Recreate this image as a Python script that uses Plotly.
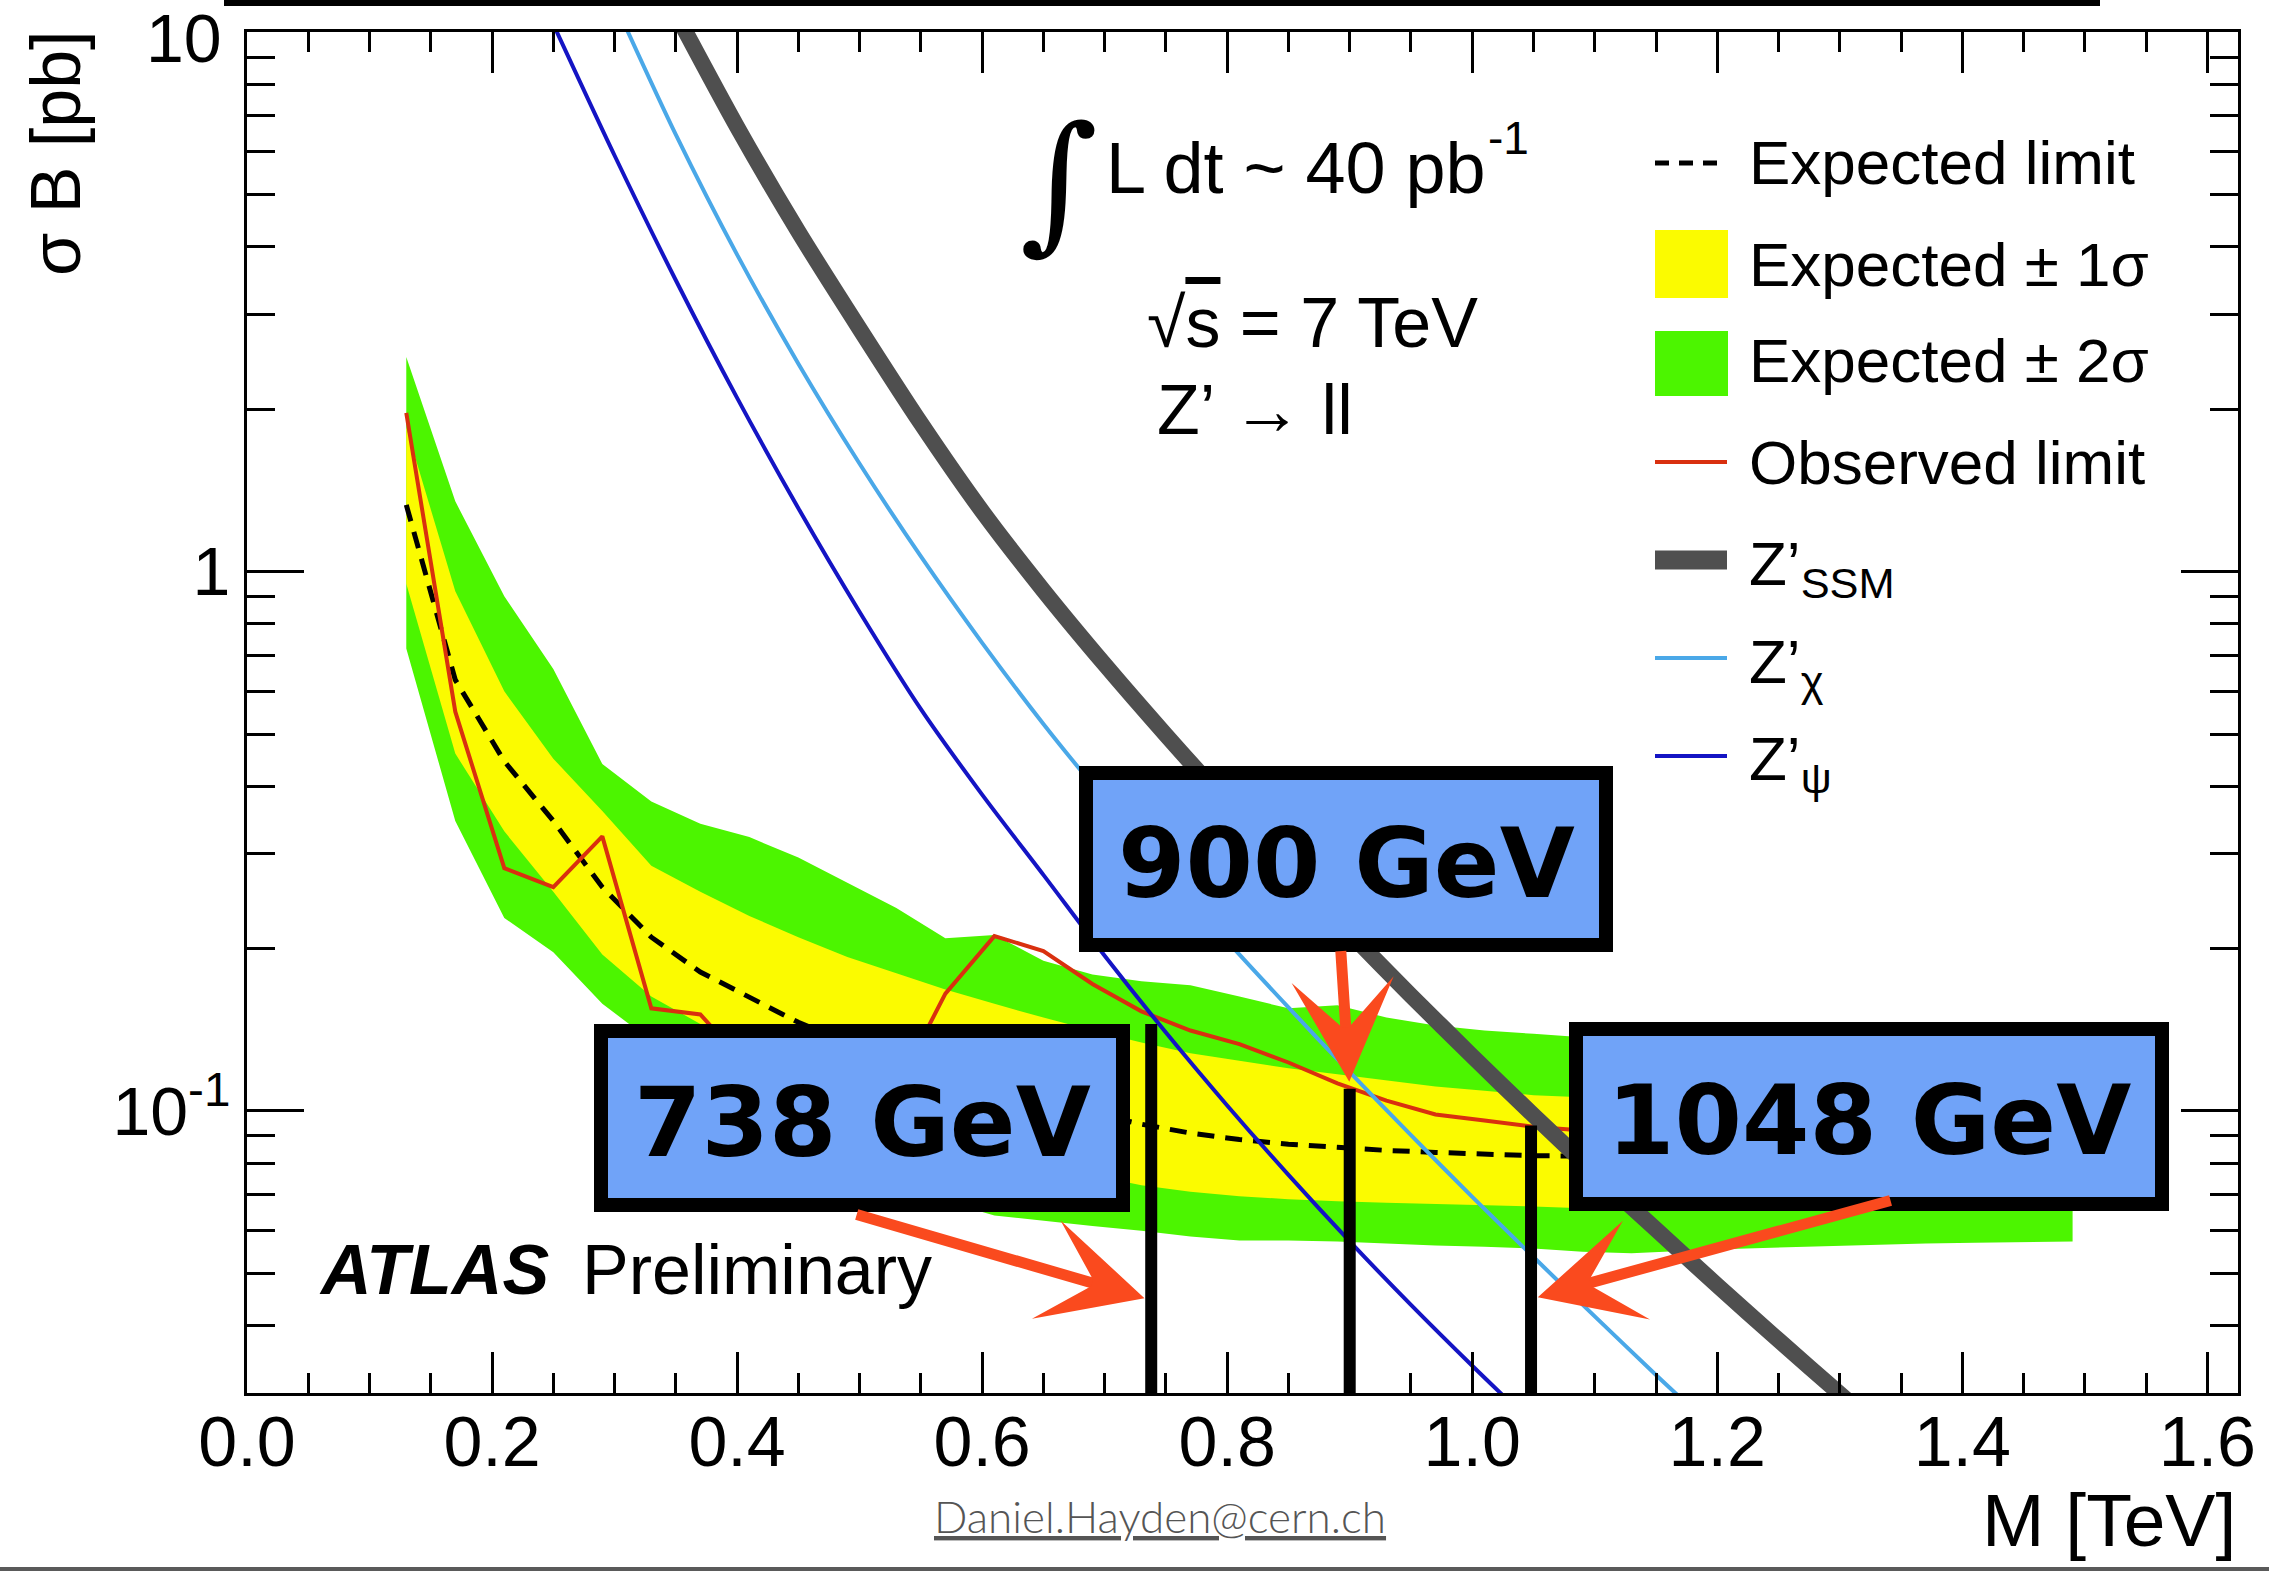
import math
import plotly.graph_objects as go

# ---------------------------------------------------------------------------
# Z' -> ll cross-section limits, 40 pb^-1 at sqrt(s) = 7 TeV
# ---------------------------------------------------------------------------
# Mass points of the limit scan (TeV)
mass = [0.13, 0.17, 0.21, 0.25, 0.29, 0.33, 0.37, 0.41, 0.45, 0.49, 0.53, 0.57,
        0.61, 0.65, 0.69, 0.73, 0.77, 0.81, 0.85, 0.89, 0.93, 0.97, 1.01, 1.05,
        1.09, 1.13, 1.17, 1.21, 1.25, 1.29, 1.33, 1.37, 1.41, 1.45, 1.49]

# Expected and observed 95% CL limits on sigma*B (pb)
exp_limit = [1.33, 0.63, 0.445, 0.345, 0.26, 0.21, 0.181, 0.163, 0.146, 0.134,
             0.125, 0.117, 0.110, 0.104, 0.099, 0.0945, 0.091, 0.0885, 0.0868,
             0.0855, 0.0845, 0.0838, 0.0832, 0.0826, 0.0825, 0.0825, 0.0826,
             0.0826, 0.0827, 0.0827, 0.0828, 0.0828, 0.0829, 0.0829, 0.083]
obs_limit = [1.97, 0.55, 0.282, 0.26, 0.323, 0.155, 0.151, 0.12, 0.11, 0.105,
             0.11, 0.165, 0.211, 0.198, 0.172, 0.153, 0.141, 0.133, 0.123,
             0.1125, 0.1045, 0.0985, 0.096, 0.0935, 0.092, 0.091, 0.0905, 0.09,
             0.0898, 0.0895, 0.0893, 0.089, 0.089, 0.0888, 0.0888]

# Expected +-1 sigma band
band1_hi = [1.85, 0.92, 0.60, 0.45, 0.36, 0.285, 0.255, 0.23, 0.21, 0.193, 0.18,
            0.168, 0.158, 0.149, 0.141, 0.134, 0.128, 0.124, 0.12, 0.117, 0.114,
            0.111, 0.109, 0.107, 0.106, 0.106, 0.106, 0.106, 0.106, 0.106, 0.106,
            0.106, 0.106, 0.106, 0.106]
band1_lo = [0.95, 0.46, 0.33, 0.255, 0.195, 0.163, 0.145, 0.13, 0.117, 0.106,
            0.098, 0.091, 0.085, 0.080, 0.076, 0.0728, 0.0708, 0.0695, 0.0686,
            0.068, 0.0676, 0.0672, 0.0668, 0.0665, 0.066, 0.066, 0.066, 0.066,
            0.066, 0.066, 0.066, 0.066, 0.066, 0.066, 0.066]

# Expected +-2 sigma band
band2_hi = [2.5, 1.35, 0.90, 0.66, 0.44, 0.375, 0.341, 0.322, 0.295, 0.265,
            0.238, 0.209, 0.212, 0.19, 0.179, 0.174, 0.171, 0.163, 0.155, 0.157,
            0.149, 0.144, 0.141, 0.139, 0.137, 0.137, 0.137, 0.136, 0.136, 0.136,
            0.136, 0.135, 0.135, 0.135, 0.135]
band2_lo = [0.72, 0.345, 0.228, 0.197, 0.158, 0.135, 0.118, 0.104, 0.092, 0.082,
            0.074, 0.068, 0.064, 0.0625, 0.0612, 0.0600, 0.0585, 0.0575, 0.0575,
            0.0573, 0.0568, 0.0563, 0.0560, 0.0556, 0.0548, 0.0545, 0.0550,
            0.0555, 0.0558, 0.0562, 0.0565, 0.0568, 0.0570, 0.0572, 0.0573]

# Theory predictions sigma*B (pb)
ssm_mass = [0.35, 0.40, 0.45, 0.50, 0.55, 0.60, 0.65, 0.70, 0.75, 0.80, 0.85,
            0.90, 0.95, 1.00, 1.05, 1.10, 1.15, 1.20, 1.25, 1.30, 1.35]
ssm_xsec = [10.84, 6.68, 4.27, 2.82, 1.884, 1.294, 0.923, 0.673, 0.498, 0.3724,
            0.2808, 0.2136, 0.1637, 0.1264, 0.0982, 0.0767, 0.0603, 0.0475,
            0.0376, 0.0299, 0.0238]

chi_mass = [0.30, 0.35, 0.40, 0.45, 0.50, 0.55, 0.60, 0.65, 0.70, 0.75, 0.80,
            0.85, 0.90, 0.95, 1.00, 1.05, 1.10, 1.15, 1.20]
chi_xsec = [11.35, 6.46, 3.87, 2.43, 1.585, 1.067, 0.738, 0.522, 0.378, 0.277,
            0.2065, 0.1556, 0.118, 0.0902, 0.0693, 0.0536, 0.0416, 0.0324,
            0.0254]

psi_mass = [0.25, 0.30, 0.35, 0.40, 0.45, 0.50, 0.55, 0.60, 0.65, 0.70, 0.75,
            0.80, 0.85, 0.90, 0.95, 1.00, 1.05]
psi_xsec = [10.35, 5.91, 3.47, 2.10, 1.311, 0.842, 0.556, 0.386, 0.274, 0.194,
            0.1398, 0.1024, 0.0761, 0.0573, 0.0437, 0.0337, 0.0262]

# Mass limits where the observed limit meets each model
limit_labels = ["738 GeV", "900 GeV", "1048 GeV"]
limit_mass = [0.738, 0.900, 1.048]
limit_xsec = [0.145, 0.110, 0.094]

# Axis ticks (the top label "10" sits just inside the page, drawn separately)
x_major = [0.0, 0.2, 0.4, 0.6, 0.8, 1.0, 1.2, 1.4, 1.6]
x_major_text = ["0.0", "0.2", "0.4", "0.6", "0.8", "1.0", "1.2", "1.4", "1.6"]
x_minor = [0.05, 0.1, 0.15, 0.25, 0.3, 0.35, 0.45, 0.5, 0.55, 0.65, 0.7, 0.75,
           0.85, 0.9, 0.95, 1.05, 1.1, 1.15, 1.25, 1.3, 1.35, 1.45, 1.5, 1.55]
y_major = [0.1, 1, 10]
y_major_text = ["10<sup>-1</sup>", "1", ""]
y_top_label = "10"
y_minor = [0.04, 0.05, 0.06, 0.07, 0.08, 0.09, 0.2, 0.3, 0.4, 0.5, 0.6, 0.7,
           0.8, 0.9, 2, 3, 4, 5, 6, 7, 8, 9]

# ---------------------------------------------------------------------------
# Page geometry (pixels)
# ---------------------------------------------------------------------------
W_PAGE, H_PAGE = 2269, 1571
PL, PR, PT, PB = 247, 2238, 32, 1393


def px(x):
    return (x - PL) / (PR - PL)


def py(y):
    return (PB - y) / (PB - PT)


FONT = "Liberation Sans, Arial, Helvetica, sans-serif"
GREEN = "#4cf500"
YELLOW = "#fbfb00"
RED = "#d9300f"
GREY = "#4f4f4f"
LIGHTBLUE = "#4aa8e8"
DARKBLUE = "#1414c4"
BOXBLUE = "#70a3f8"
ARROW = "#fa4a1e"

fig = go.Figure()

# +-2 sigma and +-1 sigma bands
fig.add_trace(go.Scatter(x=mass + mass[::-1], y=band2_hi + band2_lo[::-1],
                         fill="toself", fillcolor=GREEN, mode="lines",
                         line=dict(width=0, color=GREEN), hoverinfo="skip"))
fig.add_trace(go.Scatter(x=mass + mass[::-1], y=band1_hi + band1_lo[::-1],
                         fill="toself", fillcolor=YELLOW, mode="lines",
                         line=dict(width=0, color=YELLOW), hoverinfo="skip"))
# expected and observed limits
fig.add_trace(go.Scatter(x=mass, y=exp_limit, mode="lines",
                         line=dict(color="black", width=5, dash="17px,11px")))
fig.add_trace(go.Scatter(x=mass, y=obs_limit, mode="lines",
                         line=dict(color=RED, width=4)))
# theory curves
fig.add_trace(go.Scatter(x=ssm_mass, y=ssm_xsec, mode="lines",
                         line=dict(color=GREY, width=16, shape="spline",
                                   smoothing=0.8)))
fig.add_trace(go.Scatter(x=chi_mass, y=chi_xsec, mode="lines",
                         line=dict(color=LIGHTBLUE, width=4, shape="spline",
                                   smoothing=0.8)))
fig.add_trace(go.Scatter(x=psi_mass, y=psi_xsec, mode="lines",
                         line=dict(color=DARKBLUE, width=4, shape="spline",
                                   smoothing=0.8)))
# vertical markers at the mass limits
for m, s in zip(limit_mass, limit_xsec):
    fig.add_trace(go.Scatter(x=[m, m], y=[0.0295, s], mode="lines",
                             line=dict(color="black", width=12),
                             cliponaxis=False))

shapes = []
annotations = []

# top label of the y axis
annotations.append(dict(text=y_top_label, xref="paper", yref="paper",
                        x=px(224), y=py(38), xanchor="right",
                        yanchor="middle", showarrow=False,
                        font=dict(family=FONT, size=68, color="black")))

# ---- legend (drawn by hand, ROOT style) -----------------------------------
LX0, LX1, LTX = 1655, 1727, 1747
shapes.append(dict(type="line", xref="paper", yref="paper",
                   x0=px(LX0), x1=px(LX1), y0=py(163), y1=py(163),
                   line=dict(color="black", width=5, dash="14px,10px")))
shapes.append(dict(type="rect", xref="paper", yref="paper",
                   x0=px(LX0), x1=px(LX1 + 1), y0=py(298), y1=py(230),
                   fillcolor=YELLOW, line=dict(width=0)))
shapes.append(dict(type="rect", xref="paper", yref="paper",
                   x0=px(LX0), x1=px(LX1 + 1), y0=py(396), y1=py(331),
                   fillcolor=GREEN, line=dict(width=0)))
for yy, col, wd in [(462, RED, 4), (560, GREY, 19), (658, LIGHTBLUE, 4),
                    (756, DARKBLUE, 4)]:
    shapes.append(dict(type="line", xref="paper", yref="paper",
                       x0=px(LX0), x1=px(LX1), y0=py(yy), y1=py(yy),
                       line=dict(color=col, width=wd)))

legend_text = [("Expected limit", 163), ("Expected ± 1σ", 265),
               ("Expected ± 2σ", 360), ("Observed limit", 463),
               ("Z’<sub>SSM</sub>", 568), ("Z’<sub>χ</sub>", 666),
               ("Z’<sub>ψ</sub>", 763)]
for txt, yy in legend_text:
    annotations.append(dict(text=txt, xref="paper", yref="paper",
                            x=px(LTX), y=py(yy), xanchor="left",
                            yanchor="middle", showarrow=False,
                            font=dict(family=FONT, size=62, color="black")))

# ---- physics labels -------------------------------------------------------
annotations.append(dict(text="∫", xref="paper", yref="paper", x=px(1059),
                        y=py(181), xanchor="center", yanchor="middle",
                        showarrow=False,
                        font=dict(family="DejaVu Serif", size=150,
                                  color="black")))
annotations.append(dict(text="L dt ~ 40 pb", xref="paper", yref="paper",
                        x=px(1104), y=py(168), xanchor="left",
                        yanchor="middle", showarrow=False,
                        font=dict(family=FONT, size=72, color="black")))
annotations.append(dict(text="-1", xref="paper", yref="paper", x=px(1486),
                        y=py(138), xanchor="left", yanchor="middle",
                        showarrow=False,
                        font=dict(family=FONT, size=46, color="black")))
annotations.append(dict(text="√<span style='text-decoration:overline'>s</span> = 7 TeV",
                        xref="paper", yref="paper", x=px(1145), y=py(323),
                        xanchor="left", yanchor="middle", showarrow=False,
                        font=dict(family=FONT, size=70, color="black")))
annotations.append(dict(text="Z’ → ll", xref="paper", yref="paper",
                        x=px(1155), y=py(410), xanchor="left",
                        yanchor="middle", showarrow=False,
                        font=dict(family=FONT, size=70, color="black")))
annotations.append(dict(text="<b><i>ATLAS</i></b>", xref="paper", yref="paper",
                        x=px(317), y=py(1270), xanchor="left",
                        yanchor="middle", showarrow=False,
                        font=dict(family=FONT, size=70, color="black")))
annotations.append(dict(text="Preliminary", xref="paper", yref="paper",
                        x=px(580), y=py(1270), xanchor="left",
                        yanchor="middle", showarrow=False,
                        font=dict(family=FONT, size=70, color="black")))

# axis titles (ROOT places them at the end of the axis)
annotations.append(dict(text="σ B [pb]", xref="paper", yref="paper",
                        x=px(56), y=py(153), xanchor="center",
                        yanchor="middle", textangle=-90, showarrow=False,
                        font=dict(family=FONT, size=70, color="black")))
annotations.append(dict(text="M [TeV]", xref="paper", yref="paper",
                        x=px(2238), y=py(1520), xanchor="right",
                        yanchor="middle", showarrow=False,
                        font=dict(family=FONT, size=75, color="black")))

# footer e-mail
annotations.append(dict(text="<u>Daniel.Hayden@cern.ch</u>", xref="paper",
                        yref="paper", x=px(1160), y=py(1516),
                        xanchor="center", yanchor="middle", showarrow=False,
                        font=dict(family="Lato, Open Sans, sans-serif",
                                  size=44, color="#555555", weight=300)))

# ---- highlighted mass-limit boxes -----------------------------------------
boxes = [(594, 1130, 1024, 1212), (1079, 1613, 766, 952),
         (1569, 2169, 1022, 1211)]
for (x0, x1, y0, y1), label in zip(boxes, limit_labels):
    shapes.append(dict(type="rect", xref="paper", yref="paper", layer="above",
                       x0=px(x0 + 7), x1=px(x1 - 7), y0=py(y1 - 7),
                       y1=py(y0 + 7), fillcolor=BOXBLUE,
                       line=dict(color="black", width=14)))
    annotations.append(dict(text="<b>%s</b>" % label, xref="paper",
                            yref="paper", x=px((x0 + x1) / 2),
                            y=py((y0 + y1) / 2 + 4), xanchor="center",
                            yanchor="middle", showarrow=False,
                            font=dict(family="DejaVu Sans", size=97,
                                      color="black")))

# ---- red arrows pointing at the vertical markers ----------------------------
arrow_tips = [(limit_mass[0], 0.0446, -296, -86),
              (limit_mass[1], limit_xsec[1], -9, -139),
              (limit_mass[2], 0.0448, 361, -99)]
for xm, ys, dx, dy in arrow_tips:
    annotations.append(dict(text="", x=xm, y=math.log10(ys), xref="x",
                            yref="y", ax=dx, ay=dy, showarrow=True,
                            arrowhead=3, arrowsize=1.55, arrowwidth=11,
                            arrowcolor=ARROW, standoff=7))

# ---- page decorations ------------------------------------------------------
shapes.append(dict(type="line", xref="paper", yref="paper", x0=px(224),
                   x1=px(2100), y0=py(3), y1=py(3),
                   line=dict(color="black", width=6)))
shapes.append(dict(type="rect", xref="paper", yref="paper", x0=px(0),
                   x1=px(W_PAGE), y0=py(1571), y1=py(1567),
                   fillcolor="#5a5a5a", line=dict(width=0)))

fig.update_layout(
    width=W_PAGE, height=H_PAGE,
    margin=dict(l=PL, r=W_PAGE - PR, t=PT, b=H_PAGE - PB, pad=0,
                autoexpand=False),
    paper_bgcolor="white", plot_bgcolor="white",
    showlegend=False,
    shapes=shapes, annotations=annotations,
    xaxis=dict(range=[0, 1.625], showgrid=False, zeroline=False,
               showline=True, linecolor="black", linewidth=3,
               mirror="allticks", ticks="inside", ticklen=41, tickwidth=3,
               tickcolor="black", tickvals=x_major, ticktext=x_major_text,
               ticklabelstandoff=-14, ticklabeloverflow="allow",
               tickfont=dict(family=FONT, size=70, color="black"),
               minor=dict(tickvals=x_minor, ticks="inside", ticklen=20,
                          tickwidth=3, tickcolor="black", showgrid=False)),
    yaxis=dict(type="log", range=[-1.5229, 1.0006], showgrid=False,
               zeroline=False, showline=True, linecolor="black", linewidth=3,
               mirror="allticks", ticks="inside", ticklen=57, tickwidth=3,
               tickcolor="black", tickvals=y_major, ticktext=y_major_text,
               tickfont=dict(family=FONT, size=68, color="black"),
               minor=dict(tickvals=y_minor, ticks="inside", ticklen=28,
                          tickwidth=3, tickcolor="black", showgrid=False)),
)

fig.write_html("out.html")
